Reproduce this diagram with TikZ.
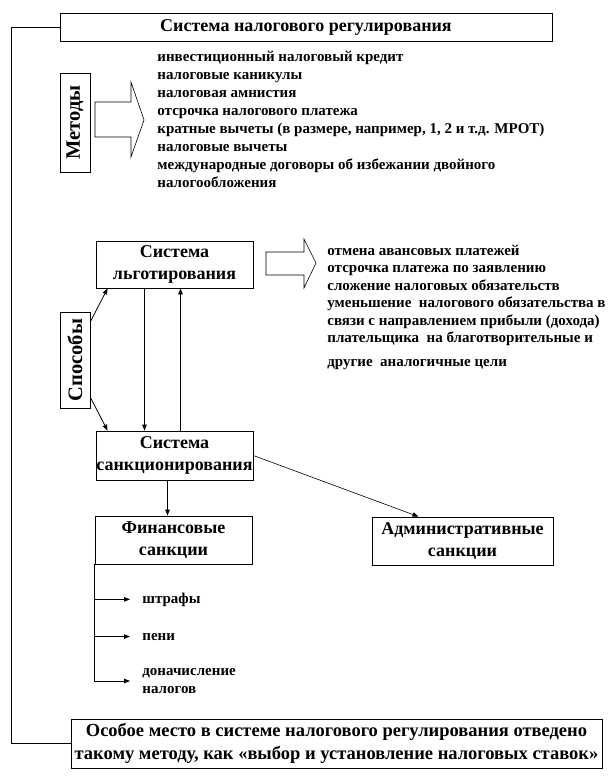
\documentclass[tikz,border=0pt]{standalone}
\usepackage{fontspec}
\setmainfont{Liberation Serif}
\usetikzlibrary{arrows.meta}

\begin{document}
\begin{tikzpicture}[x=1pt,y=-1pt,>={Triangle[length=6pt,width=4.5pt]},line width=0.8pt,
  box/.style={draw,inner sep=0pt,align=center,font=\bfseries\fontsize{18}{22}\selectfont},
  side/.style={draw,inner sep=0pt,minimum width=30,minimum height=96,font=\bfseries\fontsize{20.5}{24}\selectfont},
  item/.style={anchor=base west,inner sep=0pt,font=\bfseries\fontsize{15}{18}\selectfont},
  blk/.style={draw,fill=white,line width=0.6pt}]
\useasboundingbox (0,0) rectangle (614,780);
% boxes
\node[box,minimum width=492,minimum height=28] (title) at (306,27) {Система налогового регулирования};
\node[side,minimum height=99] (meth) at (75,122.5) {\rotatebox{90}{Методы}};
\node[side] (spos) at (75,360) {\rotatebox{90}{Способы}};
\node[box,minimum width=157,minimum height=47] (lgot) at (174.5,264.5) {Система\\льготирования};
\node[box,minimum width=157,minimum height=49] (sank) at (174.5,455.5) {Система\\санкционирования};
\node[box,minimum width=157,minimum height=48] (fin) at (173.5,540) {Финансовые\\санкции};
\node[box,minimum width=181,minimum height=48] (adm) at (462.5,541) {Административные\\санкции};
\node[box,minimum width=531,minimum height=49,font=\bfseries\fontsize{18.5}{23}\selectfont] (note) at (336.5,743.5)
  {Особое место в системе налогового регулирования отведено\\такому методу, как «выбор и установление налоговых ставок»};
% hollow arrows
\draw[blk] (95,102) -- (131,102) -- (131,82) -- (144,120) -- (131,157) -- (131,137) -- (95,137) -- cycle;
\draw[blk] (266,252) -- (304,252) -- (304,239) -- (316,263) -- (304,288) -- (304,275) -- (266,275) -- cycle;
% lists
\foreach \t [count=\i] in {инвестиционный налоговый кредит, налоговые каникулы, налоговая амнистия,
  отсрочка налогового платежа, {кратные вычеты (в размере, например, 1, 2 и т.д. МРОТ)}, налоговые вычеты,
  международные договоры об избежании двойного, налогообложения}
  \node[item] (m\i) at (157,43+18*\i) {\t};
\foreach \t/\y [count=\i] in {отмена авансовых платежей/255, отсрочка платежа по заявлению/272.5,
  сложение налоговых обязательств/290, уменьшение\ \ налогового обязательства в/307.5,
  {связи с направлением прибыли (дохода)}/325, плательщика\ \ на благотворительные и/342.5,
  другие\ \ аналогичные цели/366}
  \node[item] (l\i) at (327,\y) {\t};
\node[item] (sht) at (142,603) {штрафы};
\node[item] (pen) at (142,640) {пени};
\node[item,anchor=west,align=left,font=\bfseries\fontsize{15}{18}\selectfont] (don) at (142,681) {доначисление\\налогов};
% connectors
\coordinate (rail) at (11,27);
\draw (title.west) -- (rail) |- (note.west);
\draw[->] ([yshift=-10pt]spos.north east) -- ([xshift=12pt]lgot.south west);
\draw[->] ([yshift=11pt]spos.south east) -- ([xshift=12pt]sank.north west);
\draw[->] ([xshift=-30pt]lgot.south) -- ([xshift=-30pt]sank.north);
\draw[->] ([xshift=6pt]sank.north) -- ([xshift=6pt]lgot.south);
\draw[->] ([xshift=-7pt]sank.south) -- ([xshift=-7pt]sank.south |- fin.north);
\draw[->,line width=0.6pt] (sank.east) -- ([xshift=-44pt]adm.north);
\foreach \n in {sht,pen,don} \draw[->] (fin.south west) |- ([xshift=-12pt]\n.west);
\end{tikzpicture}
\end{document}
